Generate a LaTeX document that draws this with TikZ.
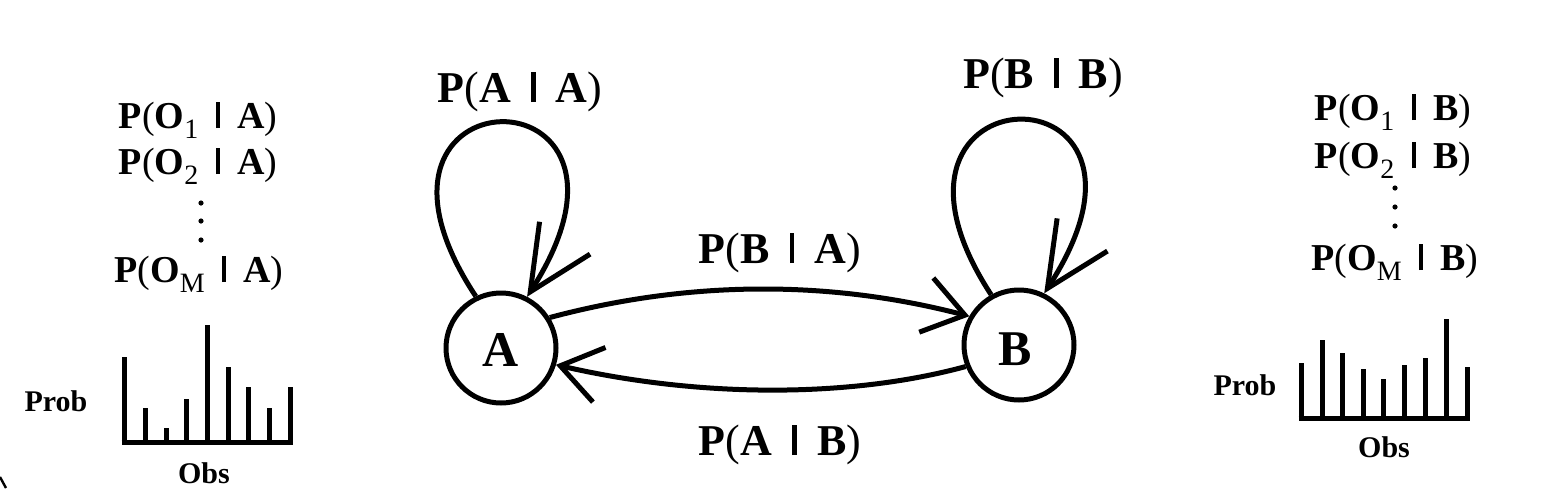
\documentclass[tikz,border=0pt]{standalone}
\usepackage{fontspec}
\setmainfont{Liberation Serif}
\usetikzlibrary{arrows.meta,positioning}

% conditional probability label, bold letters and thin brackets
\newcommand{\condp}[2]{P{\mdseries(}#1\hspace{.46em}\rule{.1em}{.68em}\hspace{.46em}#2{\mdseries)}}
\newcommand{\obsv}[1]{O\raisebox{-.28em}{\mdseries\fontsize{14}{14}\selectfont #1}}

\begin{document}
\begin{tikzpicture}[
    x=0.5pt, y=-0.5pt,
    state/.style={circle, draw, line width=2.5pt, minimum size=55pt, inner sep=0pt,
                  font=\fontsize{25}{30}\selectfont\bfseries},
    trans/.style={line width=2.5pt, -{Straight Barb[length=20pt, width=28pt]}},
    selfloop/.style={line width=2.5pt, -{Straight Barb[length=32pt, width=30pt]}},
    prob/.style={anchor=base, font=\fontsize{22}{26}\selectfont\bfseries},
    emit/.style={anchor=base, font=\fontsize{19}{22}\selectfont\bfseries},
    axlabel/.style={anchor=base, font=\fontsize{15}{18}\selectfont\bfseries},
    bar/.style={line width=2.5pt},
    dot/.style={circle, fill, inner sep=0pt, minimum size=2.6pt}
]
    \useasboundingbox (0,0) rectangle (1560,488);

    % the two states
    \node[state] (A) at (501,348) {};
    \node[state] (B) at (1019,345) {};
    \node[anchor=base, font=\fontsize{25}{30}\selectfont\bfseries] (Alab) at (501,366) {A};
    \node[anchor=base, font=\fontsize{25}{30}\selectfont\bfseries] (Blab) at (1015,365) {B};

    % transitions
    \draw[trans] (A.32) .. controls (690,280) and (830,280) .. (B.150);
    \draw[trans] (B.202) .. controls (850,398) and (700,398) .. (A.-17);
    \draw[selfloop] (A.116) .. controls +(-152,-230) and +(150,-234) .. (A.63);
    \draw[selfloop] (B.119) .. controls +(-150,-230) and +(152,-234) .. (B.64);

    \node[prob] (pAA) at (520,102) {\condp{A}{A}};
    \node[prob] (pBB) at (1043,88) {\condp{B}{B}};
    \node[prob] (pBA) at (780,263) {\condp{B}{A}};
    \node[prob] (pAB) at (780,455) {\condp{A}{B}};

    % emission probabilities of A
    \node[emit] (eA1) at (198,128) {\condp{\obsv{1}}{A}};
    \node[emit] (eA2) at (198,174) {\condp{\obsv{2}}{A}};
    \node[emit] (eAM) at (199,282) {\condp{\obsv{M}}{A}};
    \foreach \y in {203,221,240} \node[dot] at (201,\y) {};

    % emission probabilities of B
    \node[emit] (eB1) at (1393,120) {\condp{\obsv{1}}{B}};
    \node[emit] (eB2) at (1393,168) {\condp{\obsv{2}}{B}};
    \node[emit] (eBM) at (1395,270) {\condp{\obsv{M}}{B}};
    \foreach \y in {188,207,226} \node[dot] at (1395,\y) {};

    % histogram of A
    \foreach \x/\h in {124/357, 145/408, 166/428, 186/399, 207/325, 228/367, 248/387, 269/408, 290/387}
        \draw[bar] (\x,442) -- (\x,\h);
    \draw[bar] (121.5,442) -- (292.5,442);
    \node[axlabel] (probA) at (56,411) {Prob};
    \node[axlabel] (obsA) at (204,483) {Obs};

    % histogram of B
    \foreach \x/\h in {1301/363, 1322/340, 1342/353, 1363/369, 1383/379, 1404/365, 1425/358, 1446/319, 1467/367}
        \draw[bar] (\x,418) -- (\x,\h);
    \draw[bar] (1298.5,418) -- (1469.5,418);
    \node[axlabel] (probB) at (1245,395) {Prob};
    \node[axlabel] (obsB) at (1384,457) {Obs};

    % cut corner at the bottom left
    \draw[line width=1.2pt] (0,477) -- (6,488);
\end{tikzpicture}
\end{document}
